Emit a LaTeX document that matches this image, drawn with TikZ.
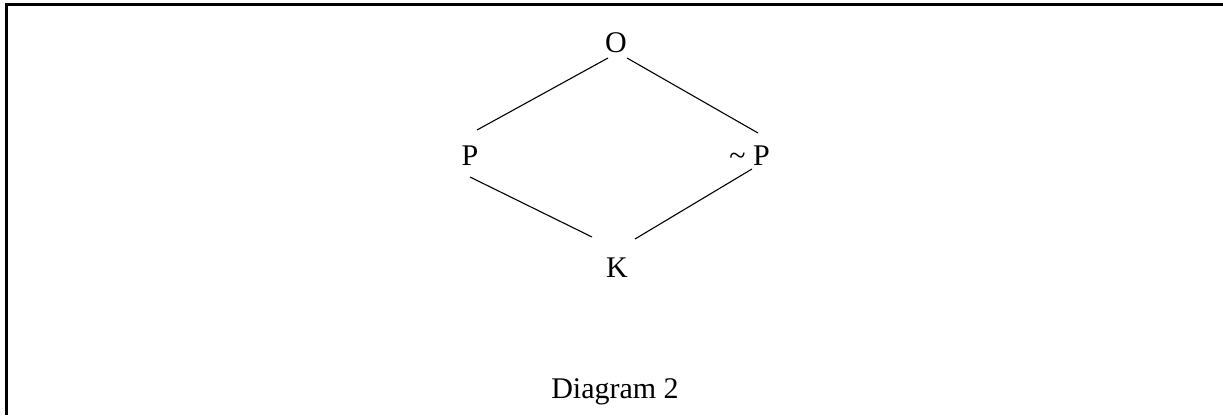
\documentclass[tikz,border=0pt]{standalone}
\usepackage{fontspec}
\setmainfont{Liberation Serif}
\begin{document}
\begin{tikzpicture}[x=1pt,y=-1pt,
  lbl/.style={inner sep=0pt,anchor=base,font=\fontsize{30}{36}\selectfont},
  edge/.style={line width=1.1pt,black},
  frame/.style={line width=2.2pt,black}]
\useasboundingbox (0,0) rectangle (1223,415);
\draw[frame] (6.5,415) -- (6.5,4.5) -- (1223,4.5);
\node[lbl] (O) at (616,52) {O};
\node[lbl] (P) at (470,165.7) {P};
\node[lbl] (NP) at (749.5,165.7) {\textasciitilde\ P};
\node[lbl] (K) at (617,277) {K};
\node[lbl] (cap) at (615,398) {Diagram 2};
\coordinate (o1) at (608,58);
\coordinate (o2) at (627,58);
\coordinate (p1) at (477,130);
\coordinate (p2) at (470,177);
\coordinate (n1) at (758,133);
\coordinate (n2) at (752,169);
\coordinate (k1) at (592,237);
\coordinate (k2) at (635,239);
\draw[edge] (o1) -- (p1);
\draw[edge] (o2) -- (n1);
\draw[edge] (p2) -- (k1);
\draw[edge] (n2) -- (k2);
\end{tikzpicture}
\end{document}
